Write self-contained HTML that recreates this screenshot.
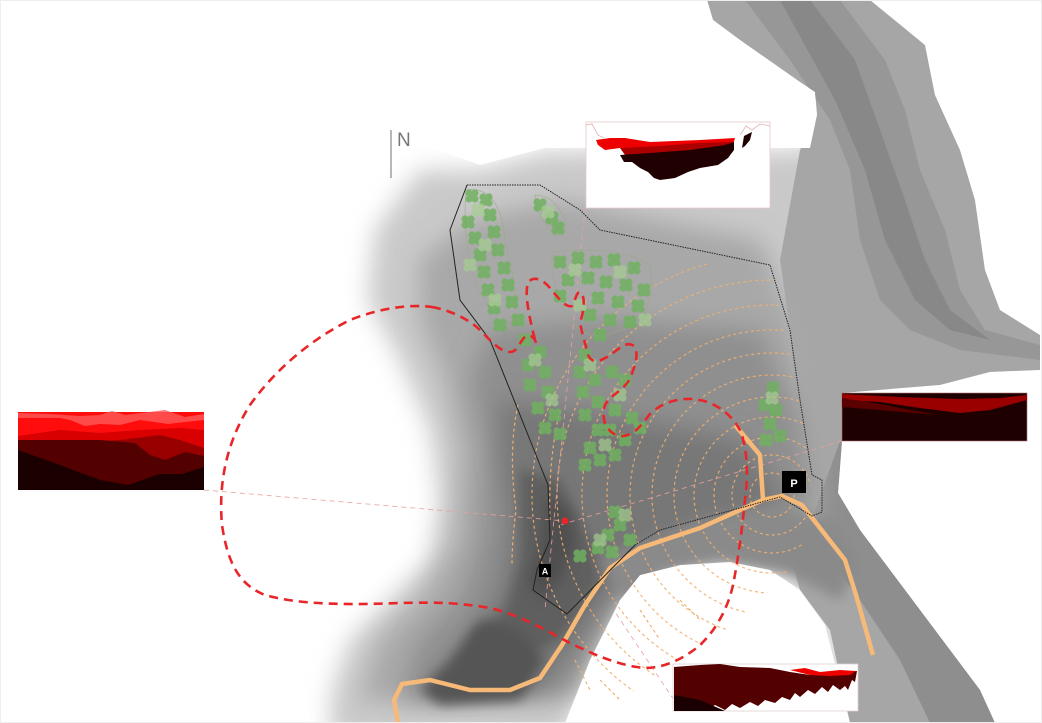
<!DOCTYPE html>
<html><head><meta charset="utf-8"><style>
html,body{margin:0;padding:0;background:#fff}
svg{display:block}
</style></head><body>
<svg width="1042" height="723" viewBox="0 0 1042 723" xmlns="http://www.w3.org/2000/svg">
<defs>
<filter id="b12" x="-20%" y="-20%" width="140%" height="140%"><feGaussianBlur stdDeviation="12"/></filter>
<filter id="b6" x="-20%" y="-20%" width="140%" height="140%"><feGaussianBlur stdDeviation="6"/></filter>
<filter id="b3"><feGaussianBlur stdDeviation="2"/></filter>
<clipPath id="mass"><path d="M480,165 L545,148 L810,148 L817,115 L815,92 L800,82 L740,40 L713,20 L707,0 L870,0 L925,45 L935,95 L960,150 L975,200 L985,270 L1000,310 L1040,335 L1040,370 L990,372 L940,385 L842,393 L842,441 L838,493 L860,530 L890,570 L920,610 L950,650 L980,690 L995,723 L850,723 L825,625 L800,590 L770,570 L730,562 L680,565 L640,575 L620,600 L590,660 L565,723 L300,723 L300,100 Z"/></clipPath>
<clipPath id="poly"><path d="M467,185 L540,185 L580,210 L600,230 L770,265 L790,330 L800,400 L812,475 L822,480 L822,512 L812,516 L780,497 L660,530 L635,545 L567,614 L533,590 L537,570 L550,540 L548,485 L530,440 L490,340 L460,300 L450,230 Z"/></clipPath>
<clipPath id="cont"><path d="M500,260 L770,265 L800,400 L812,475 L800,560 L740,620 L620,700 L560,650 L505,560 L505,400 Z"/></clipPath>
<g id="tr"><circle cx="-3" cy="-3" r="3.6"/><circle cx="3" cy="-3" r="3.6"/><circle cx="-3" cy="3" r="3.6"/><circle cx="3" cy="3" r="3.6"/><circle cx="0" cy="0" r="3"/></g>
</defs>

<!-- terrain -->
<g clip-path="url(#mass)">
  <path filter="url(#b12)" fill="#c9c9c9" d="M480,170 L545,152 L810,150 L818,110 L800,82 L740,40 L700,-10 L880,-10 L930,45 L940,95 L965,150 L980,200 L990,270 L1005,310 L1060,335 L1060,372 L990,374 L940,387 L842,395 L842,441 L836,493 L860,530 L890,570 L920,610 L950,650 L980,690 L1000,740 L850,740 L825,625 L800,590 L770,570 L730,562 L680,565 L640,575 L620,600 L590,660 L565,740 L330,740 L332,690 L350,640 L390,600 L430,560 L440,500 L430,430 L400,360 L368,300 L375,230 L420,170 Z"/>
  <!-- top-right band stripes -->
  <path fill="#a6a6a6" d="M707,0 L870,0 L925,45 L935,95 L960,150 L975,200 L985,270 L1000,310 L1040,335 L1040,370 L990,372 L940,385 L842,393 L842,441 L838,493 L860,530 L890,570 L920,610 L950,650 L980,690 L995,723 L850,723 L830,630 L800,590 L780,520 L800,440 L790,330 L780,260 L800,150 L817,115 L815,92 L800,82 L740,40 L713,20 Z"/>
  <path fill="#979797" d="M745,0 L840,0 L885,60 L905,110 L920,170 L945,230 L960,290 L985,330 L1040,345 L1040,360 L960,350 L910,330 L880,300 L860,240 L850,170 L830,120 L790,60 Z"/>
  <path fill="#888" d="M780,0 L810,0 L855,60 L880,130 L905,200 L925,260 L950,310 L990,340 L950,330 L915,300 L885,240 L865,170 L835,100 Z"/>
  <path fill="#8e8e8e" d="M840,441 L860,460 L890,520 L940,600 L975,660 L1000,723 L930,723 L900,660 L860,600 L830,560 L815,510 Z"/>
  <!-- main mass interior -->
  <path filter="url(#b12)" fill="#a8a8a8" d="M470,220 L560,200 L760,240 L800,330 L820,440 L820,520 L780,560 L700,560 L620,600 L570,700 L360,700 L380,640 L420,600 L455,540 L460,450 L445,380 L420,320 L420,260 Z"/>
  <path filter="url(#b12)" fill="#8f8f8f" d="M490,330 L600,320 L760,330 L800,420 L810,500 L750,540 L660,560 L610,600 L570,690 L400,700 L420,640 L460,600 L480,540 L485,450 L470,380 Z"/>
  <path filter="url(#b12)" fill="#777" d="M500,400 L640,420 L740,440 L790,500 L700,540 L630,570 L580,640 L540,690 L430,690 L470,640 L500,590 L510,520 L500,460 Z"/>
  <path filter="url(#b6)" fill="#5e5e5e" d="M520,470 L560,480 L590,540 L600,580 L560,640 L520,660 L480,665 L470,640 L505,610 L520,560 L520,520 Z"/>
  <path filter="url(#b6)" fill="#4f4f4f" d="M548,495 L570,510 L575,545 L560,580 L540,600 L528,580 L540,550 Z"/>
  <path filter="url(#b6)" fill="#555" d="M480,620 L520,630 L545,660 L520,700 L440,705 L420,690 L450,660 Z"/>
  <path filter="url(#b6)" fill="#8a8a8a" d="M600,560 L700,520 L780,505 L830,520 L860,560 L840,600 L790,575 L720,560 L660,570 L625,600 Z"/>
</g>

<!-- white rect behind top profile already white -->
<!-- orange contour dashes -->
<g clip-path="url(#cont)" fill="none" stroke="#f0b070" stroke-width="1.2" stroke-dasharray="3,3" opacity="0.9">
  <circle cx="772" cy="495" r="22"/><circle cx="772" cy="495" r="40"/><circle cx="772" cy="495" r="58"/>
  <circle cx="772" cy="495" r="78"/><circle cx="772" cy="495" r="98"/><circle cx="772" cy="495" r="120"/>
  <circle cx="772" cy="495" r="142"/><circle cx="772" cy="495" r="165"/><circle cx="772" cy="495" r="190"/>
  <circle cx="772" cy="495" r="215"/><circle cx="772" cy="495" r="240"/>
</g>
<g fill="none" stroke="#f0b070" stroke-width="1.2" stroke-dasharray="3,3">
  <path d="M518,405 Q508,450 516,510 Q512,540 512,565"/>
  <path d="M560,410 Q548,460 550,520"/>
  <path d="M600,680 L620,700 M575,660 L590,690 M640,610 L660,640 M680,600 L700,620"/>
</g>

<!-- thin pink guide lines -->
<g stroke="#e8a0a0" stroke-width="0.8" stroke-dasharray="5,4" fill="none">
  <line x1="204" y1="490" x2="565" y2="521"/>
  <line x1="585" y1="208" x2="545" y2="610"/>
  <line x1="674" y1="700" x2="615" y2="612"/>
  <line x1="842" y1="441" x2="560" y2="525"/>
</g>

<!-- tree cluster outlines -->
<g fill="none" stroke="#9aaa88" stroke-width="0.8" opacity="0.7">
  <path d="M466,190 Q500,185 505,240 Q520,300 515,330 Q490,320 475,280 Q462,240 466,190 Z"/>
  <path d="M535,195 Q555,195 565,220 Q568,240 555,235 Q535,215 535,195 Z"/>
  <path d="M552,252 Q620,245 650,265 Q655,300 640,320 Q600,345 580,330 Q550,300 552,252 Z"/>
</g>

<!-- trees -->
<g opacity="0.85">
<g fill="#6fb060">
<use href="#tr" x="472" y="196"/><use href="#tr" x="486" y="200"/><use href="#tr" x="468" y="222"/><use href="#tr" x="490" y="215"/><use href="#tr" x="475" y="238"/><use href="#tr" x="494" y="232"/><use href="#tr" x="480" y="255"/><use href="#tr" x="498" y="250"/><use href="#tr" x="484" y="272"/><use href="#tr" x="504" y="268"/><use href="#tr" x="488" y="290"/><use href="#tr" x="508" y="285"/><use href="#tr" x="494" y="308"/><use href="#tr" x="512" y="302"/><use href="#tr" x="500" y="325"/><use href="#tr" x="518" y="320"/>
<use href="#tr" x="540" y="205"/><use href="#tr" x="552" y="218"/><use href="#tr" x="558" y="228"/>
<use href="#tr" x="525" y="340"/><use href="#tr" x="540" y="352"/><use href="#tr" x="528" y="365"/><use href="#tr" x="545" y="372"/><use href="#tr" x="530" y="385"/><use href="#tr" x="548" y="392"/><use href="#tr" x="538" y="408"/><use href="#tr" x="555" y="415"/><use href="#tr" x="545" y="428"/><use href="#tr" x="560" y="434"/>
<use href="#tr" x="560" y="262"/><use href="#tr" x="578" y="258"/><use href="#tr" x="596" y="262"/><use href="#tr" x="614" y="260"/><use href="#tr" x="634" y="268"/><use href="#tr" x="568" y="280"/><use href="#tr" x="588" y="278"/><use href="#tr" x="606" y="282"/><use href="#tr" x="626" y="285"/><use href="#tr" x="644" y="290"/><use href="#tr" x="560" y="296"/><use href="#tr" x="598" y="298"/><use href="#tr" x="618" y="302"/><use href="#tr" x="638" y="306"/><use href="#tr" x="590" y="315"/><use href="#tr" x="610" y="320"/><use href="#tr" x="630" y="322"/><use href="#tr" x="600" y="335"/>
<use href="#tr" x="585" y="355"/><use href="#tr" x="580" y="372"/><use href="#tr" x="595" y="380"/><use href="#tr" x="583" y="392"/><use href="#tr" x="598" y="402"/><use href="#tr" x="585" y="415"/><use href="#tr" x="598" y="430"/><use href="#tr" x="590" y="448"/><use href="#tr" x="600" y="460"/><use href="#tr" x="585" y="465"/>
<use href="#tr" x="612" y="372"/><use href="#tr" x="625" y="380"/><use href="#tr" x="615" y="410"/><use href="#tr" x="632" y="418"/><use href="#tr" x="610" y="430"/><use href="#tr" x="625" y="440"/><use href="#tr" x="615" y="455"/><use href="#tr" x="640" y="428"/>
<use href="#tr" x="615" y="512"/><use href="#tr" x="620" y="525"/><use href="#tr" x="608" y="535"/><use href="#tr" x="630" y="540"/><use href="#tr" x="598" y="548"/><use href="#tr" x="612" y="552"/><use href="#tr" x="580" y="556"/>
<use href="#tr" x="773" y="388"/><use href="#tr" x="765" y="405"/><use href="#tr" x="776" y="410"/><use href="#tr" x="770" y="424"/><use href="#tr" x="780" y="436"/><use href="#tr" x="766" y="440"/>
</g>
<g fill="#a6d090" opacity="0.8">
<use href="#tr" x="478" y="210"/><use href="#tr" x="485" y="245"/><use href="#tr" x="470" y="265"/><use href="#tr" x="495" y="300"/><use href="#tr" x="535" y="360"/><use href="#tr" x="552" y="400"/><use href="#tr" x="575" y="270"/><use href="#tr" x="620" y="272"/><use href="#tr" x="580" y="305"/><use href="#tr" x="645" y="320"/><use href="#tr" x="590" y="365"/><use href="#tr" x="620" y="395"/><use href="#tr" x="605" y="445"/><use href="#tr" x="625" y="515"/><use href="#tr" x="600" y="540"/><use href="#tr" x="772" y="398"/><use href="#tr" x="548" y="212"/>
</g>
</g>

<!-- road -->
<path fill="none" stroke="#f6b978" stroke-width="4.5" stroke-linejoin="round" d="M735,425 L760,455 L763,500 L740,510 L700,528 L640,548 L610,568 L585,605 L562,645 L540,678 L510,690 L470,690 L430,680 L402,684 L394,700 L398,723"/>
<path fill="none" stroke="#f6b978" stroke-width="4.5" stroke-linejoin="round" d="M763,500 L782,496 L802,505 L845,560 L856,595 L873,655"/>

<!-- boundary polygon -->
<path fill="none" stroke="#222" stroke-width="1" stroke-dasharray="1.5,1" d="M467,185 L540,185 L580,210 L600,230 L770,265 L790,330 L800,400 L812,475 L822,480 L822,512 L812,516 L780,497 L660,530 L635,545"/>
<path fill="none" stroke="#222" stroke-width="1" d="M635,545 L567,614 L533,590 L537,570 L550,540 L548,485 L530,440 L490,340 L460,300 L450,230 L467,185"/>

<!-- red dashed line -->
<path fill="none" stroke="#e8262a" stroke-width="2.6" stroke-dasharray="9,6" stroke-linejoin="round"
d="M432,307 C450,310 470,320 480,330 C490,340 500,352 510,352 C518,352 520,340 526,336 C532,334 536,340 536,344 C530,320 524,295 528,283 C532,276 542,278 550,288 C558,298 566,308 572,306 C576,300 576,292 580,292 C586,296 584,312 580,322 C582,335 586,345 588,355 C592,364 600,362 610,355 C618,350 626,340 634,346 C640,354 634,370 628,382 C620,392 610,396 605,405 C600,420 608,434 620,436 C634,437 642,424 650,414 C660,404 676,398 692,399 C712,400 730,412 740,430 C748,450 748,475 745,500 C742,530 738,560 733,585 C728,608 716,630 700,645 C685,658 665,668 645,668 C620,666 595,655 570,643 C545,630 520,615 490,608 C460,603 440,602 400,603 C350,605 300,605 265,595 C240,585 228,565 222,525 C218,480 228,440 250,405 C275,370 310,340 350,320 C380,308 410,304 432,307 Z"/>

<!-- red dot -->
<circle cx="565" cy="521" r="3.5" fill="#e8262a"/>

<!-- markers -->
<rect x="782" y="471" width="24" height="22" fill="#000"/>
<text x="794" y="487" font-family="Liberation Sans, sans-serif" font-size="11" font-weight="bold" fill="#fff" text-anchor="middle">P</text>
<rect x="539" y="564" width="12" height="13" fill="#000"/>
<text x="545" y="574.5" font-family="Liberation Sans, sans-serif" font-size="9" font-weight="bold" fill="#fff" text-anchor="middle">A</text>

<!-- north -->
<line x1="391" y1="130" x2="391" y2="178" stroke="#888" stroke-width="1.2"/>
<text x="397" y="146" font-family="Liberation Sans, sans-serif" font-size="19" fill="#777">N</text>

<!-- top profile -->
<rect x="586" y="122" width="184" height="86" fill="#fff" stroke="#e8c8c8" stroke-width="0.8"/>
<path fill="none" stroke="#e0b0b0" stroke-width="0.8" d="M586,125 L592,124 L598,135 L604,138 M740,135 L746,126 L752,130 L760,124 L770,126"/>
<path fill="#e00" d="M596,140 L610,138 L625,138 L650,142 L700,140 L735,138 L732,148 L700,152 L650,152 L620,148 L605,150 L598,145 Z"/>
<path fill="#a00" d="M620,148 L660,146 L700,143 L732,142 L730,150 L700,156 L640,157 L625,155 Z"/>
<path fill="#200000" d="M620,155 L650,153 L690,150 L725,145 L734,142 L734,150 L728,158 L718,165 L700,168 L688,172 L675,178 L660,180 L654,178 L648,172 L640,168 L632,162 L624,162 Z"/>
<path fill="#200000" d="M744,136 L752,132 L750,140 L745,146 L742,148 Z"/>

<!-- left profile -->
<rect x="18" y="412" width="186" height="78" fill="#ff0d0d"/>
<path fill="#ff5a5a" d="M18,413 L50,414 L80,416 L100,415 L112,411 L125,415 L165,410 L185,417 L204,414 L204,420 L185,422 L168,424 L140,420 L120,425 L100,424 L85,426 L70,420 L60,418 L18,418 Z" opacity="0.8"/>
<path fill="#d80000" d="M18,436 L60,430 L100,433 L140,430 L180,428 L204,430 L204,490 L18,490 Z"/>
<path fill="#980000" d="M120,440 L160,435 L180,440 L204,448 L204,490 L18,490 L18,445 Z"/>
<path fill="#520000" d="M18,440 L60,440 L100,440 L135,443 L150,455 L165,460 L185,452 L204,456 L204,490 L18,490 Z"/>
<path fill="#1a0000" d="M18,450 L60,465 L100,480 L128,485 L160,474 L182,474 L204,467 L204,490 L18,490 Z"/>

<!-- right profile -->
<rect x="842" y="393" width="185" height="48" fill="#1e0000" stroke="#b07070" stroke-width="0.6"/>
<path fill="#9a0000" d="M842,394 L900,397 L960,399 L1000,398 L1027,395 L1027,400 L990,410 L960,413 L920,408 L880,402 L842,400 Z"/>
<path fill="#5a0000" d="M842,398 L880,404 L910,410 L940,415 L842,407 Z"/>

<!-- bottom profile -->
<rect x="673" y="664" width="185" height="47" fill="#fff" stroke="#e0d0d0" stroke-width="0.8"/>
<path fill="#520000" d="M674,667 L700,665 L720,664 L740,667 L770,668 L790,672 L810,675 L830,674 L845,672 L857,671 L855,682 L852,680 L848,690 L845,686 L840,690 L833,685 L828,692 L822,687 L815,694 L808,690 L800,697 L795,693 L790,700 L782,697 L775,703 L765,700 L758,706 L750,702 L740,708 L732,704 L725,710 L715,705 L705,711 L674,711 Z"/>
<path fill="#e00" d="M790,670 L805,668 L820,672 L840,670 L856,671 L850,675 L830,676 L810,675 Z"/>
<path fill="#1a0000" d="M674,695 L700,700 L725,711 L674,711 Z"/>

<!-- page frame -->
<rect x="0.5" y="0.5" width="1041" height="722" fill="none" stroke="#eee" stroke-width="1"/>
</svg>
</body></html>
